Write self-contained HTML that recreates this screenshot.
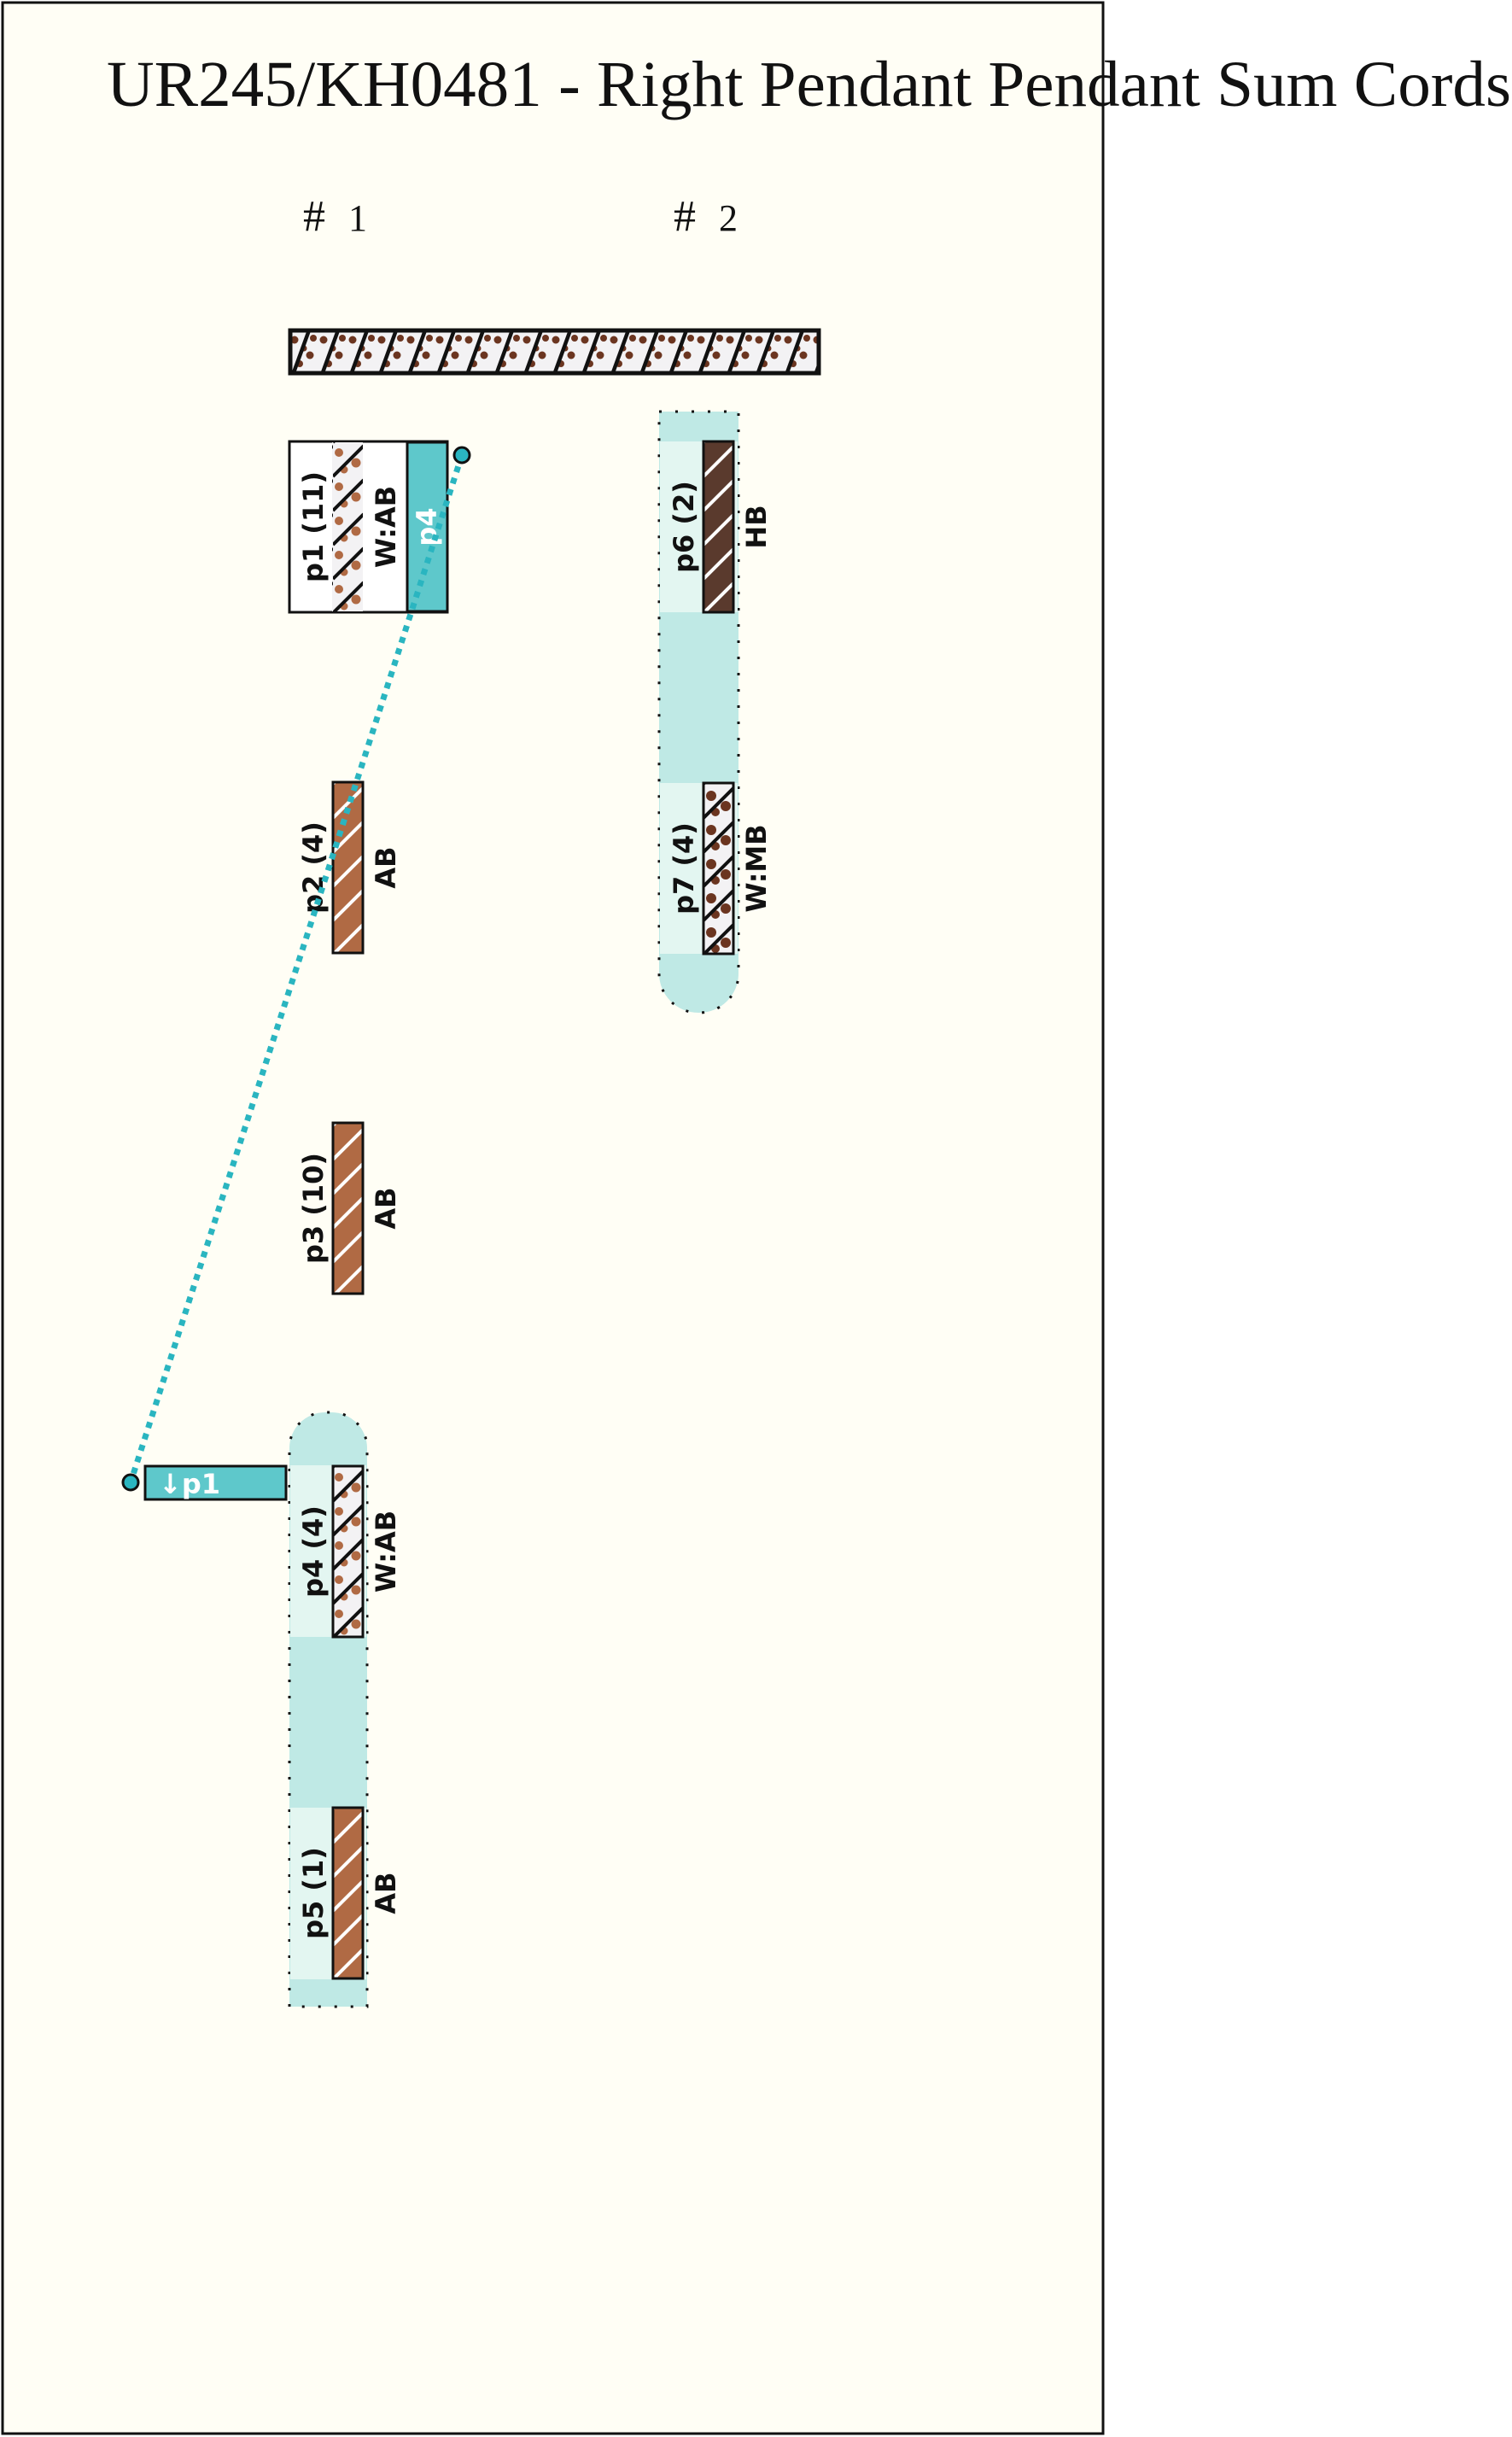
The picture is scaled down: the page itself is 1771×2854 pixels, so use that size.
<!DOCTYPE html>
<html><head><meta charset="utf-8"><style>
html,body{margin:0;padding:0;background:#fff;}
svg{display:block;}
.lbl{font-family:"DejaVu Sans","Liberation Sans",sans-serif;font-weight:bold;font-size:32px;fill:#111;}
.ttl{font-family:"Liberation Serif",serif;font-size:76px;fill:#111;}
</style></head><body>
<svg width="1771" height="2854" viewBox="0 0 1771 2854" xmlns="http://www.w3.org/2000/svg">
<defs>
<g id="sl">
<line x1="0" y1="-2" x2="36" y2="-38" stroke-width="4"/>
<line x1="0" y1="38" x2="36" y2="2" stroke-width="4"/>
<line x1="0" y1="78" x2="36" y2="42" stroke-width="4"/>
</g>
<pattern id="abA" patternUnits="userSpaceOnUse" x="390" y="0" width="36" height="40">
<rect width="36" height="40" fill="#b06a44"/>
<use href="#sl" stroke="#fff"/>
</pattern>
<pattern id="hb" patternUnits="userSpaceOnUse" x="824" y="0" width="36" height="40">
<rect width="36" height="40" fill="#5a3a2d"/>
<use href="#sl" stroke="#fff"/>
</pattern>
<pattern id="wab" patternUnits="userSpaceOnUse" x="390" y="0" width="36" height="40">
<rect width="36" height="40" fill="#f3f2f4"/>
<circle cx="7" cy="10" r="5" fill="#b06a44"/><circle cx="27" cy="22" r="5.5" fill="#b06a44"/>
<circle cx="13" cy="30" r="4.5" fill="#b06a44"/>
<use href="#sl" stroke="#111"/>
</pattern>
<pattern id="wmb" patternUnits="userSpaceOnUse" x="824" y="0" width="36" height="40">
<rect width="36" height="40" fill="#f3f2f4"/>
<circle cx="9" cy="12" r="6" fill="#6b3520"/><circle cx="26" cy="24" r="6" fill="#6b3520"/>
<circle cx="14" cy="31" r="5" fill="#6b3520"/>
<use href="#sl" stroke="#111"/>
</pattern>
<pattern id="top" patternUnits="userSpaceOnUse" x="339" y="386" width="34" height="51">
<rect width="34" height="51" fill="#f3f2f4"/>
<circle cx="6" cy="12" r="4.5" fill="#6b3520"/><circle cx="24" cy="30" r="4.5" fill="#6b3520"/>
<circle cx="12" cy="40" r="4" fill="#6b3520"/><circle cx="28" cy="10" r="4" fill="#6b3520"/>
<circle cx="17" cy="22" r="3.5" fill="#6b3520"/>
<line x1="4" y1="53" x2="24" y2="-2" stroke="#111" stroke-width="4.5"/>
</pattern>
</defs>
<rect x="0" y="0" width="1771" height="2854" fill="#fff"/>
<rect x="3" y="3" width="1289" height="2847" fill="#fffef5" stroke="#111" stroke-width="3"/>
<text class="ttl" x="125" y="124" textLength="1645" lengthAdjust="spacingAndGlyphs">UR245/KH0481 - Right Pendant Pendant Sum Cords</text>
<text class="ttl" x="355" y="270" style="font-size:52px">#</text><text class="ttl" x="408" y="270" style="font-size:44px">1</text>
<text class="ttl" x="789" y="270" style="font-size:52px">#</text><text class="ttl" x="842" y="270" style="font-size:44px">2</text>

<rect x="340" y="387" width="619" height="50" fill="url(#top)" stroke="#111" stroke-width="5"/>

<!-- group 2 -->
<path d="M772,482 H865 V1140 a46,46 0 0 1 -46,46 h-1 a46,46 0 0 1 -46,-46 Z" fill="#bfe9e5" stroke="#111" stroke-width="3" stroke-dasharray="3,16"/>
<rect x="773" y="517" width="91" height="200" fill="#e3f6f1"/>
<rect x="773" y="917" width="91" height="200" fill="#e3f6f1"/>
<rect x="824" y="517" width="35" height="200" fill="url(#hb)" stroke="#111" stroke-width="3"/>
<rect x="824" y="917" width="35" height="200" fill="url(#wmb)" stroke="#111" stroke-width="3"/>
<text class="lbl" transform="translate(812,617) rotate(-90)" text-anchor="middle">p6 (2)</text>
<text class="lbl" transform="translate(897,617) rotate(-90)" text-anchor="middle">HB</text>
<text class="lbl" transform="translate(812,1017) rotate(-90)" text-anchor="middle">p7 (4)</text>
<text class="lbl" transform="translate(897,1017) rotate(-90)" text-anchor="middle">W:MB</text>

<!-- group 1 -->
<path d="M339,2350 V1696 a42,42 0 0 1 42,-42 h7 a42,42 0 0 1 42,42 V2350 Z" fill="#bfe9e5" stroke="#111" stroke-width="3" stroke-dasharray="3,16"/>
<rect x="340" y="1716" width="89" height="201" fill="#e3f6f1"/>
<rect x="340" y="2117" width="89" height="201" fill="#e3f6f1"/>
<rect x="390" y="1717" width="35" height="200" fill="url(#wab)" stroke="#111" stroke-width="3"/>
<rect x="390" y="2117" width="35" height="200" fill="url(#abA)" stroke="#111" stroke-width="3"/>
<text class="lbl" transform="translate(378,1817) rotate(-90)" text-anchor="middle">p4 (4)</text>
<text class="lbl" transform="translate(463,1817) rotate(-90)" text-anchor="middle">W:AB</text>
<text class="lbl" transform="translate(378,2217) rotate(-90)" text-anchor="middle">p5 (1)</text>
<text class="lbl" transform="translate(463,2217) rotate(-90)" text-anchor="middle">AB</text>

<!-- p1 box -->
<rect x="339" y="517" width="185" height="200" fill="#fff" stroke="#111" stroke-width="3"/>
<rect x="389" y="518" width="36" height="198" fill="url(#wab)"/>
<rect x="477" y="518" width="47" height="198" fill="#5ec8cb" stroke="#111" stroke-width="3"/>
<text class="lbl" transform="translate(378,617) rotate(-90)" text-anchor="middle">p1 (11)</text>
<text class="lbl" transform="translate(463,617) rotate(-90)" text-anchor="middle">W:AB</text>
<text class="lbl" transform="translate(511,617) rotate(-90)" text-anchor="middle" style="fill:#fff">p4</text>

<!-- p2, p3 -->
<rect x="390" y="916" width="35" height="200" fill="url(#abA)" stroke="#111" stroke-width="3"/>
<text class="lbl" transform="translate(378,1016) rotate(-90)" text-anchor="middle">p2 (4)</text>
<text class="lbl" transform="translate(463,1016) rotate(-90)" text-anchor="middle">AB</text>
<rect x="390" y="1315" width="35" height="200" fill="url(#abA)" stroke="#111" stroke-width="3"/>
<text class="lbl" transform="translate(378,1415) rotate(-90)" text-anchor="middle">p3 (10)</text>
<text class="lbl" transform="translate(463,1415) rotate(-90)" text-anchor="middle">AB</text>

<!-- ↓p1 box -->
<rect x="170" y="1717" width="165" height="39" fill="#5ec8cb" stroke="#111" stroke-width="3"/>
<text class="lbl" x="186" y="1749" style="fill:#fff">↓p1</text>

<!-- connector -->
<line x1="541" y1="533" x2="153" y2="1736" stroke="#2ab5c0" stroke-width="7" stroke-dasharray="7,7"/>
<circle cx="541" cy="533" r="9" fill="#2ab5c0" stroke="#111" stroke-width="3"/>
<circle cx="153" cy="1736" r="9" fill="#2ab5c0" stroke="#111" stroke-width="3"/>
</svg>
</body></html>
